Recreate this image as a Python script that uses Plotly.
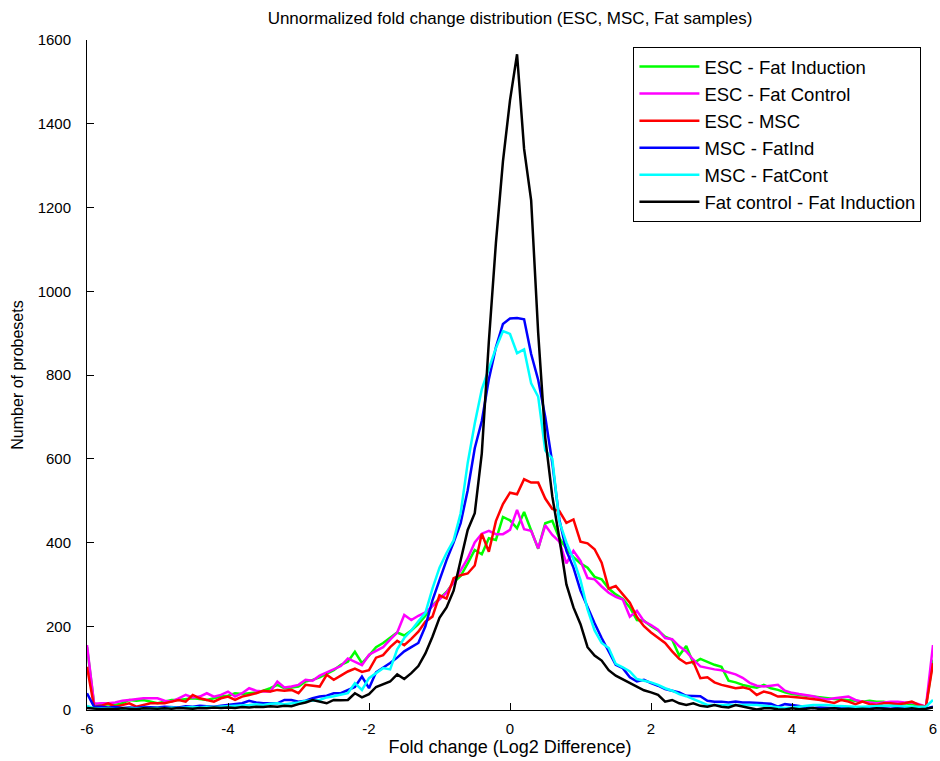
import plotly.graph_objects as go

# bin centres (log2 fold change), 0.1 wide from -6 to 6
x = [round(-6 + 0.1 * i, 1) for i in range(121)]

esc_fat_induction = [
    150, 15, 12, 14, 12, 16, 24, 22, 24, 20,
    16, 20, 24, 24, 26, 28, 26, 24, 28, 32,
    34, 40, 38, 40, 42, 46, 52, 60, 52, 54,
    56, 68, 72, 78, 86, 95, 108, 115, 139, 112,
    130, 150, 160, 172, 185, 178, 190, 205, 225, 250,
    267, 282, 305, 320, 350, 382, 372, 410, 406, 461,
    453, 434, 473, 430, 385, 446, 452, 410, 385, 365,
    350, 340, 318, 312, 290, 276, 265, 245, 215, 213,
    200, 190, 175, 168, 130, 153, 112, 122, 115, 108,
    103, 70, 66, 60, 56, 53, 60, 52, 48, 42,
    38, 36, 33, 31, 29, 27, 26, 25, 24, 22,
    20, 22, 20, 20, 16, 14, 16, 14, 10, 8,
    120]

esc_fat_control = [
    155, 15, 16, 16, 18, 22, 24, 26, 28, 28,
    28, 22, 20, 28, 36, 30, 32, 40, 32, 36,
    44, 32, 40, 52, 46, 44, 44, 68, 54, 56,
    60, 72, 70, 82, 90, 98, 105, 123, 115, 107,
    132, 142, 150, 168, 185, 227, 215, 225, 233, 248,
    265, 280, 305, 332, 362, 400, 421, 428, 420, 420,
    430, 478, 432, 428, 386, 441, 418, 402, 350, 380,
    356, 315, 312, 295, 280, 270, 264, 223, 237, 212,
    203, 192, 172, 169, 152, 140, 120, 104, 100, 97,
    95, 90, 85, 77, 65, 58, 56, 58, 60, 46,
    41, 38, 35, 33, 28, 25, 28, 30, 32, 24,
    20, 18, 16, 18, 20, 20, 18, 18, 14, 8,
    155]

esc_msc = [
    103, 8, 10, 16, 8, 12, 16, 8, 12, 16,
    16, 16, 20, 24, 20, 36, 28, 24, 20, 28,
    32, 24, 32, 36, 40, 46, 44, 48, 46, 48,
    40, 60, 58, 56, 84, 72, 82, 92, 99, 91,
    95, 125, 131, 150, 165, 155, 170, 187, 211, 223,
    274, 266, 315, 322, 326, 345, 421, 378, 451, 492,
    519, 515, 551, 543, 543, 505, 480, 475, 447, 455,
    402, 398, 384, 352, 290, 296, 276, 256, 222, 200,
    185, 172, 160, 140, 122, 111, 115, 76, 78, 66,
    60, 56, 52, 54, 50, 36, 44, 40, 32, 33,
    32, 30, 28, 26, 24, 20, 17, 24, 20, 14,
    20, 14, 12, 16, 16, 14, 16, 20, 12, 8,
    112]

msc_fatind = [
    40, 8, 8, 6, 7, 5, 6, 5, 7, 6,
    6, 8, 7, 6, 9, 8, 10, 9, 8, 10,
    12, 14, 16, 22, 18, 16, 16, 16, 24, 24,
    20, 22, 28, 32, 34, 40, 40, 48, 55, 80,
    52, 90, 100, 112, 125, 140, 150, 160, 200, 262,
    310, 358, 400, 446, 525, 625, 690, 790, 866, 922,
    935, 936, 933, 850, 788, 700, 590, 455, 380, 340,
    285, 245, 207, 172, 140, 108, 100, 78, 68, 72,
    64, 58, 50, 46, 42, 34, 34, 33, 22, 20,
    20, 18, 20, 18, 18, 17, 16, 15, 8, 14,
    12, 10, 8, 5, 6, 5, 4, 6, 5, 4,
    5, 4, 5, 4, 3, 5, 4, 3, 4, 3,
    8]

msc_fatcont = [
    10, 4, 3, 4, 2, 3, 4, 3, 5, 4,
    5, 4, 6, 5, 6, 7, 6, 8, 7, 8,
    9, 10, 10, 12, 14, 12, 15, 16, 14, 16,
    18, 22, 22, 24, 30, 33, 37, 40, 64, 48,
    76, 88, 100, 97, 145, 172, 190, 212, 232, 290,
    340, 375, 405, 470, 590, 684, 766, 815, 864, 905,
    898, 852, 861, 780, 748, 620, 600, 450, 400, 360,
    310, 240, 190, 160, 148, 110, 102, 92, 74, 70,
    66, 60, 52, 46, 38, 33, 26, 18, 12, 12,
    12, 12, 12, 12, 12, 12, 10, 8, 6, 5,
    6, 8, 10, 12, 12, 12, 10, 9, 8, 8,
    8, 9, 10, 10, 10, 9, 8, 8, 8, 8,
    24]

fatcont_fatind = [
    5, 3, 2, 3, 2, 4, 3, 2, 4, 3,
    3, 4, 3, 5, 4, 3, 5, 4, 6, 5,
    6, 5, 7, 6, 8, 7, 9, 8, 10, 9,
    14, 18, 24, 20, 16, 24, 23, 24, 40, 30,
    38, 55, 62, 68, 85, 74, 88, 105, 135, 175,
    220, 245, 285, 360, 430, 470, 613, 880, 1115, 1310,
    1456, 1566, 1340, 1217, 900, 650, 510, 410, 300, 245,
    205, 150, 130, 118, 95, 82, 73, 65, 57, 47,
    42, 36, 20, 24, 16, 12, 16, 10, 8, 12,
    8, 6, 12, 8, 5, 1, 4, 4, 2, 1,
    4, 2, 3, 5, 2, 3, 4, 2, 3, 2,
    3, 2, 4, 3, 2, 3, 2, 4, 2, 3,
    6]

series_names = ["ESC - Fat Induction", "ESC - Fat Control", "ESC - MSC",
                "MSC - FatInd", "MSC - FatCont", "Fat control - Fat Induction"]
series_values = [esc_fat_induction, esc_fat_control, esc_msc,
                 msc_fatind, msc_fatcont, fatcont_fatind]
series_colors = ["#00ff00", "#ff00ff", "#ff0000", "#0000ff", "#00ffff", "#000000"]

x_ticks = [-6, -4, -2, 0, 2, 4, 6]
y_ticks = [0, 200, 400, 600, 800, 1000, 1200, 1400, 1600]

FONT = "Liberation Sans, Arial, Helvetica, sans-serif"

fig = go.Figure()
for name, vals, col in zip(series_names, series_values, series_colors):
    fig.add_trace(go.Scatter(x=x, y=vals, mode="lines", name=name,
                             legendgroup=name,
                             line=dict(color=col, width=2.5)))

W, H = 940, 761
fig.update_layout(
    width=W, height=H,
    margin=dict(l=87, r=3, t=40, b=51),
    plot_bgcolor="white", paper_bgcolor="white",
    font=dict(family=FONT, size=15, color="black"),
    title=dict(text="Unnormalized fold change distribution (ESC, MSC, Fat samples)",
               x=0.5, xref="paper", xanchor="center",
               y=1 - 18 / H, yref="container", yanchor="middle",
               font=dict(family=FONT, size=17, color="black")),
    legend=dict(x=(636 - 87) / 850, y=(710 - 47) / 670, xanchor="left", yanchor="top",
                bordercolor="black", borderwidth=1, bgcolor="white",
                font=dict(family=FONT, size=18.5, color="black"),
                tracegroupgap=0, itemwidth=60),
    showlegend=True,
)
fig.update_xaxes(range=[-6, 6], tickvals=x_ticks, ticktext=[str(v) for v in x_ticks],
                 ticks="inside", ticklen=7, tickcolor="black", tickwidth=1,
                 showline=True, linecolor="black", linewidth=1,
                 showgrid=False, zeroline=False,
                 tickfont=dict(size=15), ticklabelstandoff=5, ticklabeloverflow="allow",
                 title=dict(text="Fold change (Log2 Difference)", font=dict(size=18), standoff=2))
fig.update_yaxes(range=[0, 1600], tickvals=y_ticks, ticktext=[str(v) for v in y_ticks],
                 ticks="inside", ticklen=7, tickcolor="black", tickwidth=1,
                 showline=True, linecolor="black", linewidth=1,
                 showgrid=False, zeroline=False,
                 tickfont=dict(size=15), ticklabelstandoff=12,
                 title=dict(text="Number of probesets", font=dict(size=16), standoff=10))

fig.write_html("out.html")
